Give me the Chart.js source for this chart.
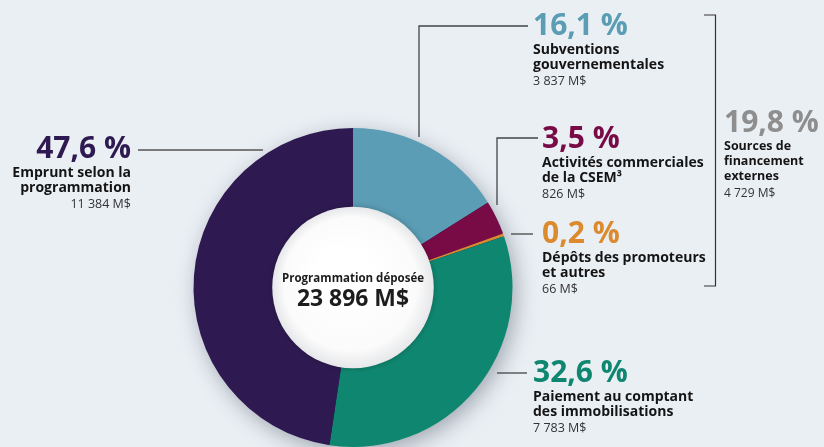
<!DOCTYPE html>
<html>
<head>
<meta charset="utf-8">
<script src="https://cdn.jsdelivr.net/npm/chart.js@4"></script>
<style>
  body { margin: 0; background: #eaeff4; }
  #wrap { width: 824px; height: 447px; position: relative; }
</style>
</head>
<body>
<div id="wrap"><canvas id="programmation"></canvas></div>
<script>
// données (M$) — ordre horaire depuis midi
const categories = [
    ['Subventions', 'gouvernementales'],
    ['Activités commerciales', 'de la CSEM³'],
    ['Dépôts des promoteurs', 'et autres'],
    ['Paiement au comptant', 'des immobilisations'],
    ['Emprunt selon la', 'programmation']
];
const amounts = [3837, 826, 66, 7783, 11384];
const percentLabels = ['16,1 %', '3,5 %', '0,2 %', '32,6 %', '47,6 %'];
const amountLabels = ['3 837 M$', '826 M$', '66 M$', '7 783 M$', '11 384 M$'];
const colors = ['#5a9db5', '#780a45', '#dc8a2e', '#0f8770', '#2e1a51'];

const externalPercent = '19,8 %';
const externalLines = ['Sources de', 'financement', 'externes'];
const externalAmount = '4 729 M$';

const totalTitle = 'Programmation déposée';
const totalAmount = '23 896 M$';

// position des étiquettes : x, ligne de base du %, alignement, ligne de rappel
const labelLayout = [
    { x: 533, y: 35, align: 'left', lead: [[419, 137], [419, 26], [528, 26]], lineColor: '#444' },
    { x: 542, y: 148, align: 'left', lead: [[497, 205], [497, 138], [538, 138]], lineColor: '#444' },
    { x: 542, y: 243, align: 'left', lead: [[511, 234], [533, 234]], lineColor: '#444' },
    { x: 533, y: 382, align: 'left', lead: [[497, 373], [527, 373]], lineColor: '#444' },
    { x: 131, y: 158, align: 'right', lead: [[138, 150], [263, 150]], lineColor: '#7a7a7a' }
];

const FONT = '"Open Sans", "Noto Sans", sans-serif';

const donutShadow = {
    id: 'donutShadow',
    beforeDatasetsDraw(chart) {
        const arc = chart.getDatasetMeta(0).data[0];
        if (!arc) return;
        const ctx = chart.ctx;
        ctx.save();
        ctx.shadowColor = 'rgba(40, 50, 70, 0.4)';
        ctx.shadowBlur = 22;
        ctx.shadowOffsetX = 4;
        ctx.shadowOffsetY = 6;
        ctx.fillStyle = '#2e1a51';
        ctx.beginPath();
        ctx.arc(arc.x, arc.y, arc.outerRadius - 1, 0, Math.PI * 2);
        ctx.fill();
        ctx.restore();
    }
};

const annotations = {
    id: 'annotations',
    afterDraw(chart) {
        const ctx = chart.ctx;
        const arc = chart.getDatasetMeta(0).data[0];
        ctx.save();

        // disque central
        const r = arc.innerRadius + 1;
        const g = ctx.createRadialGradient(arc.x - 10, arc.y - 15, r * 0.3, arc.x, arc.y, r);
        g.addColorStop(0, '#ffffff');
        g.addColorStop(0.75, '#fbfbfb');
        g.addColorStop(1, '#e6e7e9');
        ctx.shadowColor = 'rgba(0,0,0,0.25)';
        ctx.shadowBlur = 6;
        ctx.fillStyle = g;
        ctx.beginPath();
        ctx.arc(arc.x, arc.y, r, 0, Math.PI * 2);
        ctx.fill();
        ctx.shadowColor = 'transparent';

        ctx.fillStyle = '#1c1c1c';
        ctx.textAlign = 'center';
        ctx.textBaseline = 'alphabetic';
        ctx.font = 'bold 13px ' + FONT;
        ctx.fillText(totalTitle, arc.x, arc.y - 6, 142);
        ctx.font = 'bold 24px ' + FONT;
        ctx.fillText(totalAmount, arc.x, arc.y + 18, 112);

        // étiquettes
        labelLayout.forEach((l, i) => {
            ctx.strokeStyle = l.lineColor;
            ctx.lineWidth = i === 4 ? 2 : 1.3;
            ctx.beginPath();
            l.lead.forEach((p, k) => k ? ctx.lineTo(p[0], p[1]) : ctx.moveTo(p[0], p[1]));
            ctx.stroke();

            ctx.textAlign = l.align;
            ctx.fillStyle = colors[i];
            ctx.font = 'bold 30px ' + FONT;
            ctx.fillText(percentLabels[i], l.x, l.y);
            ctx.fillStyle = '#141414';
            ctx.font = 'bold 14px ' + FONT;
            categories[i].forEach((t, k) => ctx.fillText(t, l.x, l.y + 19 + k * 15));
            ctx.fillStyle = '#333';
            ctx.font = '12.5px ' + FONT;
            ctx.fillText(amountLabels[i], l.x, l.y + 50);
        });

        // accolade sources externes
        ctx.strokeStyle = '#333';
        ctx.lineWidth = 1.2;
        ctx.beginPath();
        ctx.moveTo(704, 15);
        ctx.lineTo(715.5, 15);
        ctx.lineTo(715.5, 286);
        ctx.lineTo(704, 286);
        ctx.stroke();

        ctx.textAlign = 'left';
        ctx.fillStyle = '#8e8e8e';
        ctx.font = 'bold 30px ' + FONT;
        ctx.fillText(externalPercent, 724, 132);
        ctx.fillStyle = '#141414';
        ctx.font = 'bold 12.5px ' + FONT;
        externalLines.forEach((t, k) => ctx.fillText(t, 724, 150 + k * 15));
        ctx.fillStyle = '#333';
        ctx.font = '12px ' + FONT;
        ctx.fillText(externalAmount, 724, 197);
        ctx.restore();
    }
};

const ctxProg = document.getElementById('programmation');
const chartProg = new Chart(ctxProg, {
    type: 'doughnut',
    data: {
        labels: categories.map(c => c.join(' ')),
        datasets: [{
            data: amounts,
            backgroundColor: colors,
            borderWidth: 0
        }]
    },
    options: {
        responsive: true,
        maintainAspectRatio: false,
        animation: false,
        events: [],
        cutout: '50%',
        layout: {
            padding: { left: 193, top: 128, right: 311, bottom: 0 }
        },
        plugins: {
            legend: { display: false },
            tooltip: { enabled: false }
        }
    },
    plugins: [donutShadow, annotations]
});
</script>
</body>
</html>
